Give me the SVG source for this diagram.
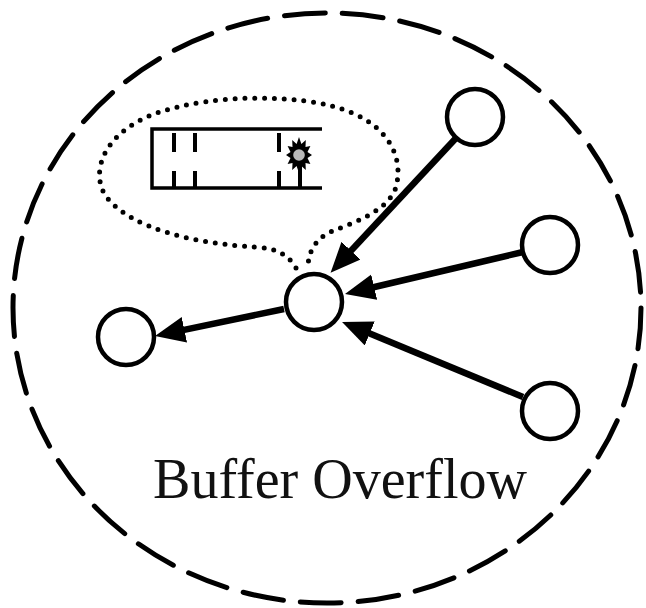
<svg xmlns="http://www.w3.org/2000/svg" width="646" height="608" viewBox="0 0 646 608">
<style>
.node{fill:#fff;stroke:#000;stroke-width:4.5}
.edge{stroke:#000;stroke-width:6.5;fill:none;marker-end:url(#ah)}
.buf{stroke:#000;stroke-width:3.5;fill:none}
.bd{stroke:#000;stroke-width:4;fill:none}
</style>
<defs>
<marker id="ah" markerUnits="userSpaceOnUse" markerWidth="32" markerHeight="28" refX="15" refY="13" orient="auto" viewBox="0 0 32 28">
<path d="M0,0 L30,13 L0,26 z" fill="#000"/>
</marker>
</defs>
<rect width="646" height="608" fill="#fff"/>
<g id="boundary">
<ellipse cx="327" cy="308" rx="314" ry="295" fill="none" stroke="#000" stroke-width="5" stroke-dasharray="41 17" stroke-linecap="round"/>
</g>
<g id="bubble">
<path d="M296 268 C288 254 275 248 255 247 C200 244 130 230 105 195 C90 170 105 130 160 112 C210 95 300 92 350 112 C390 128 405 160 395 190 C385 212 355 222 330 232 C315 240 308 252 308 268" fill="none" stroke="#000" stroke-width="5" stroke-dasharray="0 9.8" stroke-linecap="round"/>
</g>
<g id="buffer">
<path class="buf" d="M322 129 H152 V188 H322"/>
<path class="bd" d="M174 133 V152 M174 171 V188 M195 133 V152 M195 171 V188 M279 133 V152 M279 171 V188 M300 165 V188"/>
<polygon points="312,155 307.5,158 310.4,164 305.5,163 305.8,170 301.4,166 299,173 296.6,166 292.2,170 292.5,163 287.6,164 290.5,158 286,155 290.5,152 287.6,146 292.5,147 292.2,140 296.6,144 299,137 301.4,144 305.8,140 305.5,147 310.4,146 307.5,152" fill="#000"/>
<circle cx="299" cy="155" r="5.8" fill="#b8b8b8"/>
</g>
<g id="connectors">
<line class="edge" x1="457" y1="137" x2="340.8" y2="261.7"/>
<line class="edge" x1="523" y1="252" x2="359.6" y2="290.5"/>
<line class="edge" x1="523" y1="397" x2="355.9" y2="327.7"/>
<line class="edge" x1="284" y1="309" x2="169.7" y2="332.9"/>
</g>
<g id="n-top"><circle class="node" cx="475" cy="117" r="28"/></g>
<g id="n-right"><circle class="node" cx="550" cy="245" r="28"/></g>
<g id="n-bottom"><circle class="node" cx="550" cy="411" r="28"/></g>
<g id="n-center"><circle class="node" cx="314" cy="302" r="28"/></g>
<g id="n-left"><circle class="node" cx="126" cy="337" r="28"/></g>
<g id="label">
<text x="153" y="498" font-family="'Liberation Serif', serif" font-size="56" textLength="374" lengthAdjust="spacingAndGlyphs" fill="#111">Buffer Overflow</text>
</g>
</svg>
